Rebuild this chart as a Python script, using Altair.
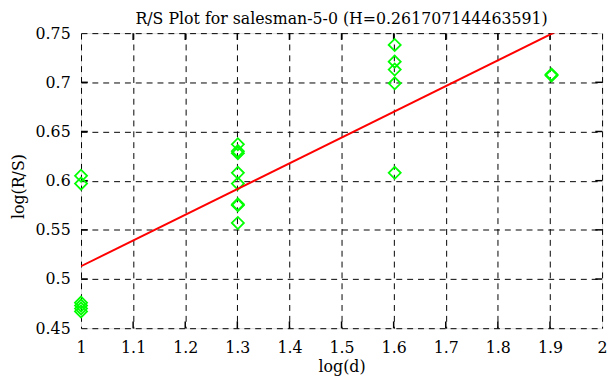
import altair as alt
import pandas as pd

title_text = "R/S Plot for salesman-5-0 (H=0.261707144463591)"
H = 0.261707144463591
fit_at_1 = 0.513

log_d = [1.0, 1.301, 1.602, 1.903]
log_rs = [
    [0.605, 0.597, 0.476, 0.473, 0.470, 0.467],
    [0.637, 0.630, 0.628, 0.608, 0.597, 0.576, 0.575, 0.557],
    [0.738, 0.721, 0.713, 0.699, 0.608],
    [0.708, 0.707],
]
x_ticks = [1.0, 1.1, 1.2, 1.3, 1.4, 1.5, 1.6, 1.7, 1.8, 1.9, 2.0]
y_ticks = [0.45, 0.5, 0.55, 0.6, 0.65, 0.7, 0.75]

FONT = "DejaVu Serif"

pts = pd.DataFrame(
    [{"x": xv, "y": yv} for xv, ys in zip(log_d, log_rs) for yv in ys]
)
line_df = pd.DataFrame(
    {"x": [1.0, 2.0], "y": [fit_at_1, fit_at_1 + H * (2.0 - 1.0)]}
)

xmin, xmax = x_ticks[0], x_ticks[-1]
ymin, ymax = y_ticks[0], y_ticks[-1]
tx = (xmax - xmin) * 0.013
ty = (ymax - ymin) * 0.023
tick_rows = []
for xv in x_ticks[1:-1]:
    tick_rows.append({"x": xv, "x2": xv, "y": ymin, "y2": ymin + ty})
    tick_rows.append({"x": xv, "x2": xv, "y": ymax, "y2": ymax - ty})
for yv in y_ticks[1:-1]:
    tick_rows.append({"x": xmin, "x2": xmin + tx, "y": yv, "y2": yv})
    tick_rows.append({"x": xmax, "x2": xmax - tx, "y": yv, "y2": yv})
ticks_df = pd.DataFrame(tick_rows)

xscale = alt.Scale(domain=[xmin, xmax], nice=False, zero=False)
yscale = alt.Scale(domain=[ymin, ymax], nice=False, zero=False)

xaxis = alt.Axis(
    values=x_ticks, format=".1~f", title="log(d)",
    labelFont=FONT, labelFontSize=16, labelColor="black", labelPadding=12,
    titleFont=FONT, titleFontSize=16, titleFontWeight="normal", titleColor="black",
    titleX=264, titleY=44, titleBaseline="alphabetic", titleAnchor="middle",
    tickSize=0, domain=False, grid=True, gridColor="black", gridOpacity=1,
    gridDash=[6, 5], gridWidth=1, labelFlush=False,
)
yaxis = alt.Axis(
    values=y_ticks, format=".2~f", title="log(R/S)",
    labelFont=FONT, labelFontSize=16, labelColor="black", labelPadding=11,
    titleFont=FONT, titleFontSize=16, titleFontWeight="normal", titleColor="black",
    titleX=-63, titleY=155, titleBaseline="middle", titleAngle=-90,
    tickSize=0, domain=False, grid=True, gridColor="black", gridOpacity=1,
    gridDash=[6, 5], gridWidth=1, labelFlush=False,
)

base_grid = alt.Chart(pts).mark_point(opacity=0).encode(
    x=alt.X("x:Q", scale=xscale, axis=xaxis),
    y=alt.Y("y:Q", scale=yscale, axis=yaxis),
)

ticks = alt.Chart(ticks_df).mark_rule(color="black", strokeWidth=1.5).encode(
    x=alt.X("x:Q", scale=xscale),
    x2="x2:Q",
    y=alt.Y("y:Q", scale=yscale),
    y2="y2:Q",
)

fit = alt.Chart(line_df).mark_line(color="#ff0000", strokeWidth=2, clip=True).encode(
    x=alt.X("x:Q", scale=xscale),
    y=alt.Y("y:Q", scale=yscale),
)

points = alt.Chart(pts).mark_point(
    shape="diamond", filled=False, color="#00ff00", size=150, strokeWidth=1.8, opacity=1
).encode(
    x=alt.X("x:Q", scale=xscale),
    y=alt.Y("y:Q", scale=yscale),
)

chart = alt.layer(base_grid, ticks, points, fit).properties(
    width=528,
    height=299,
    title=alt.TitleParams(
        text=title_text, font=FONT, fontSize=16, fontWeight="normal",
        color="black", anchor="middle", offset=0, dy=1.5,
    ),
    autosize=alt.AutoSizeParams(type="none"),
    padding={"left": 74, "top": 23, "right": 6, "bottom": 49},
).configure_view(
    stroke="black", strokeWidth=2
).configure(background="white")

chart.save("out.html", embed_options={"renderer": "svg", "actions": False})
